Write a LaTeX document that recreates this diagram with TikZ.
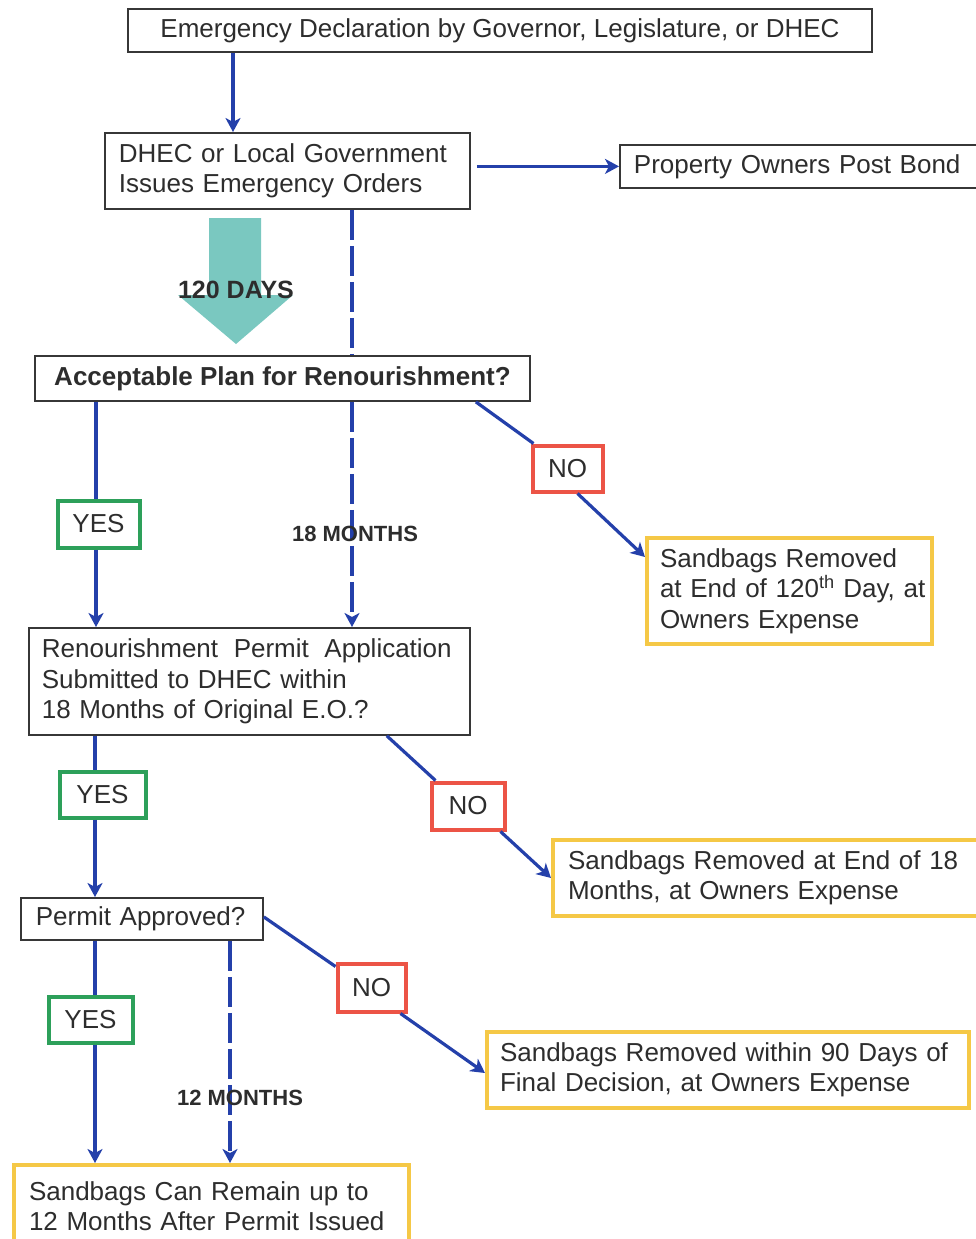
\documentclass[tikz,border=0pt]{standalone}
\usepackage{fontspec}
\setmainfont{Liberation Sans}
\usetikzlibrary{arrows.meta,calc}
\definecolor{ink}{RGB}{45,45,45}
\definecolor{frame}{RGB}{55,55,55}
\definecolor{flowblue}{RGB}{36,64,170}
\definecolor{yesgreen}{RGB}{45,160,90}
\definecolor{nored}{RGB}{236,84,70}
\definecolor{outyellow}{RGB}{245,200,70}
\definecolor{blockteal}{RGB}{122,200,192}
\begin{document}
\begin{tikzpicture}[x=1pt,y=-1pt,
  every node/.style={font=\fontsize{26}{30.5}\selectfont, text=ink},
  box/.style={draw=frame, line width=1.8pt, fill=white},
  outcome/.style={draw=outyellow, line width=4pt, fill=white, align=left},
  yesbox/.style={draw=yesgreen, line width=4pt, fill=white, inner sep=0pt},
  nobox/.style={draw=nored, line width=4pt, fill=white, inner sep=0pt},
  conn/.style={draw=flowblue, line width=3.2pt},
  arr/.style={conn, -{Stealth[length=14pt,width=15pt,inset=4pt]}},
  dline/.style={conn, dash pattern=on 30pt off 6pt},
  darr/.style={dline, -{Stealth[length=14pt,width=15pt,inset=4pt]}},
  mlabel/.style={font=\fontsize{22}{24}\selectfont\bfseries, inner sep=0pt},
  dlabel/.style={font=\fontsize{25}{27}\selectfont\bfseries, inner sep=0pt}
]
\clip (0,0) rectangle (976,1239);
\fill[white] (0,0) rectangle (976,1239);

% column positions of the vertical connectors
\coordinate (colA) at (233,0);
\coordinate (colD) at (352,0);
\coordinate (colY) at (96,0);
\coordinate (colY2) at (95,0);
\coordinate (colP) at (230,0);

% process boxes
\node[box, minimum width=744pt, minimum height=43pt] (decl) at (500,30.5)
  {Emergency Declaration by Governor, Legislature, or DHEC};
\node[box, anchor=north west, inner xsep=14pt, text width=337pt, minimum height=76pt, align=left] (orders) at (104,132)
  {DHEC or Local Government\\Issues Emergency Orders};
\node[box, anchor=north west, inner xsep=14pt, text width=330pt, minimum height=43pt, align=left] (bond) at (619,144)
  {Property Owners Post Bond};
\node[box, minimum width=495pt, minimum height=45pt, font=\fontsize{26}{30}\selectfont\bfseries] (plan) at (282.5,378.5)
  {Acceptable Plan for Renourishment?};
\node[box, anchor=north west, inner xsep=13pt, text width=415pt, minimum height=107pt, align=left] (apply) at (28,627)
  {Renourishment\hspace{0.6em}Permit\hspace{0.6em}Application\\Submitted to DHEC within\\18 Months of Original E.O.?};
\node[box, anchor=north west, inner xsep=15pt, text width=212pt, minimum height=42pt, align=left] (approved) at (20,897)
  {Permit Approved?};

% outcome boxes
\node[outcome, anchor=north west, inner xsep=13pt, text width=259pt, minimum height=106pt] (rm120) at (645,536)
  {\mbox{Sandbags Removed}\\\mbox{at End of 120\textsuperscript{th} Day, at}\\\mbox{Owners Expense}};
\node[outcome, anchor=north west, inner xsep=15pt, text width=400pt, minimum height=76pt] (rm18) at (551,838)
  {Sandbags Removed at End of 18\\Months, at Owners Expense};
\node[outcome, anchor=north west, inner xsep=13pt, text width=456pt, minimum height=76pt] (rm90) at (485,1030)
  {Sandbags Removed within 90 Days of\\Final Decision, at Owners Expense};
\node[outcome, anchor=north west, inner xsep=15pt, text width=365pt, minimum height=82pt] (remain) at (12,1163)
  {Sandbags Can Remain up to\\12 Months After Permit Issued};

% decision labels
\node[yesbox, minimum width=82pt, minimum height=47pt] (yes1) at (98.5,524) {YES};
\node[nobox, minimum width=70pt, minimum height=46pt] (no1) at (567.5,468.5) {NO};
\node[yesbox, minimum width=86pt, minimum height=46pt] (yes2) at (102.5,794.5) {YES};
\node[nobox, minimum width=73pt, minimum height=47pt] (no2) at (468,806) {NO};
\node[yesbox, minimum width=84pt, minimum height=46pt] (yes3) at (90.5,1019.5) {YES};
\node[nobox, minimum width=68pt, minimum height=48pt] (no3) at (371.5,987.5) {NO};

% 120-day block arrow
\fill[blockteal] (209,218) -- (261,218) -- (261,295) -- (293,295) -- (236,344)
  -- (178,295) -- (209,295) -- cycle;
\node[dlabel] (d120) at (236,290) {120 DAYS};

% connectors
\draw[arr] (decl.south -| colA) -- (orders.north -| colA);
\draw[arr, shorten <=6pt] (orders.east |- bond.west) -- (bond.west);
\draw[dline] (orders.south -| colD) -- (plan.north -| colD);
\draw[darr] (plan.south -| colD) -- (apply.north -| colD);
\node[mlabel] (m18) at (355,534) {18 MONTHS};

\draw[conn] (plan.south -| colY) -- (yes1.north -| colY);
\draw[arr] (yes1.south -| colY) -- (apply.north -| colY);
\draw[conn] ([xshift=-55pt]plan.south east) -- ([xshift=3pt]no1.north west);
\draw[arr] ([xshift=10pt]no1.south) -- ([yshift=34pt]rm120.west);

\draw[conn] (apply.south -| colY2) -- (yes2.north -| colY2);
\draw[arr] (yes2.south -| colY2) -- (approved.north -| colY2);
\draw[conn] ([xshift=-84pt]apply.south east) -- ([xshift=6pt]no2.north west);
\draw[arr] ([xshift=-6pt]no2.south east) -- (rm18.west);

\draw[conn] (approved.south -| colY2) -- (yes3.north -| colY2);
\draw[arr] (yes3.south -| colY2) -- (remain.north -| colY2);
\draw[darr] (approved.south -| colP) -- (remain.north -| colP);
\node[mlabel] (m12) at (240,1098) {12 MONTHS};
\draw[conn] ([yshift=2pt]approved.east) -- ([yshift=-5pt]no3.north west);
\draw[arr] ([xshift=-7pt]no3.south east) -- ([yshift=-3pt]rm90.west);
\end{tikzpicture}
\end{document}
